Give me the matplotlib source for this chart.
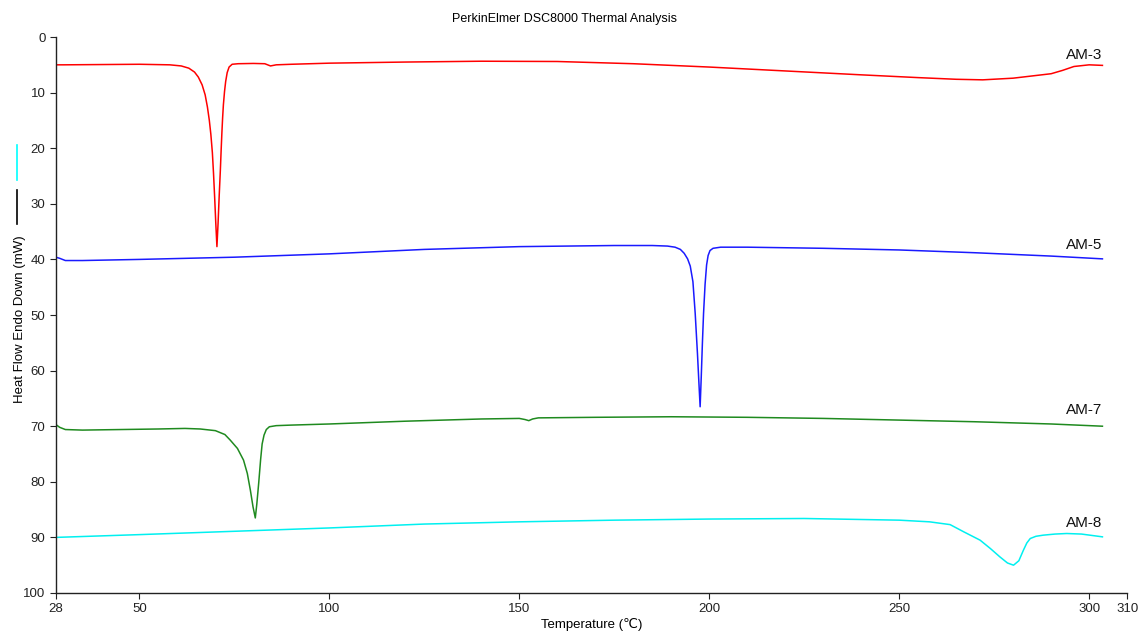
import matplotlib
matplotlib.use('Agg')
import matplotlib.pyplot as plt
from matplotlib.lines import Line2D

plt.rcParams['font.family'] = ['Liberation Sans', 'DejaVu Sans']

# AM-3 (red)
am3_t = [28, 30, 40, 50, 58, 61, 63, 64.5, 65.5, 66.5, 67.3, 67.9, 68.4, 68.8, 69.2, 69.5, 69.8, 70.1, 70.4,
         70.7, 71.0, 71.3, 71.5, 71.7, 71.9, 72.1, 72.4, 72.7, 73.1, 73.6, 74.4, 76, 80, 83, 84.5, 86, 90, 100,
         120, 140, 160, 180, 200, 220, 240, 255, 265, 272, 280, 285, 290, 293, 296, 300, 303.5]
am3_h = [5.0, 5.0, 4.95, 4.9, 5.0, 5.2, 5.6, 6.3, 7.2, 8.6, 10.4, 12.6, 15.0, 17.5, 20.8, 24.5, 28.8, 33.5, 37.7,
         33.5, 28.5, 24.0, 20.5, 17.3, 14.5, 12.2, 9.8, 8.0, 6.4, 5.4, 4.9, 4.8, 4.75, 4.8, 5.2, 5.0, 4.9, 4.7,
         4.5, 4.35, 4.4, 4.8, 5.4, 6.1, 6.8, 7.3, 7.6, 7.7, 7.4, 7.0, 6.6, 6.0, 5.3, 5.0, 5.1]

# AM-5 (blue)
am5_t = [28, 29, 30.5, 35, 50, 75, 100, 125, 150, 175, 185, 189, 191, 192.4, 193.4, 194.3, 195, 195.7, 196.3,
         196.9, 197.3, 197.6, 197.9, 198.2, 198.5, 198.9, 199.3, 199.7, 200.2, 201, 203, 210, 230, 250, 270,
         290, 303.5]
am5_h = [39.6, 39.8, 40.2, 40.2, 40.0, 39.6, 39.0, 38.2, 37.7, 37.5, 37.5, 37.6, 37.8, 38.2, 38.9, 39.9, 41.2,
         44.0, 49.7, 57.0, 62.5, 66.5, 61.0, 55.0, 49.7, 44.5, 41.0, 39.3, 38.4, 38.0, 37.8, 37.8, 38.0, 38.3,
         38.8, 39.4, 39.9]

# AM-7 (green)
am7_t = [28, 29, 30.5, 35, 45, 55, 62, 66, 70, 72.5, 73.9, 75.8, 77.4, 78.4, 79.2, 79.9, 80.5, 80.9, 81.4, 81.9,
         82.3, 82.8, 83.4, 84.2, 86, 90, 100, 120, 140, 150, 151.5, 152.5, 153.5, 155, 170, 190, 210, 230, 250,
         270, 290, 303.5]
am7_h = [69.7, 70.2, 70.6, 70.7, 70.6, 70.5, 70.4, 70.5, 70.8, 71.5, 72.5, 74.0, 76.1, 78.5, 81.5, 84.5, 86.5,
         84.0, 80.2, 76.0, 73.2, 71.6, 70.6, 70.1, 69.9, 69.8, 69.6, 69.1, 68.7, 68.6, 68.8, 69.0, 68.7, 68.5,
         68.4, 68.3, 68.4, 68.6, 68.9, 69.2, 69.6, 70.0]

# AM-8 (cyan)
am8_t = [28, 50, 75, 100, 125, 150, 175, 200, 225, 250, 258, 263.4, 267, 271.3, 274, 276.5, 278.5, 280.1, 281.5,
         282.7, 283.6, 284.5, 286, 287.9, 291, 294.1, 298, 303.5]
am8_h = [90.0, 89.5, 88.9, 88.3, 87.6, 87.2, 86.9, 86.7, 86.6, 86.9, 87.2, 87.7, 89.0, 90.5, 92.0, 93.5, 94.6,
         95.0, 94.2, 92.3, 91.0, 90.2, 89.8, 89.6, 89.4, 89.3, 89.4, 89.9]

names = ['AM-3', 'AM-5', 'AM-7', 'AM-8']
label_pos = [3.2, 37.4, 67.1, 87.4]
colors = ['#ff0000', '#1a1aff', '#1f8a1f', '#00f0f0']

x_ticks = [28, 50, 100, 150, 200, 250, 300, 310]
y_ticks = [0, 10, 20, 30, 40, 50, 60, 70, 80, 90, 100]

fig = plt.figure(figsize=(11.4, 6.33), dpi=100)
ax = fig.add_axes([0.049, 0.0632, 0.9397, 0.8783])

series = [(am3_t, am3_h), (am5_t, am5_h), (am7_t, am7_h), (am8_t, am8_h)]
for (t, h), c in zip(series, colors):
    ax.plot(t, h, color=c, linewidth=1.1)

for name, yp in zip(names, label_pos):
    ax.text(303.5, yp, name, ha='right', va='center', fontsize=11, color='#111111')

ax.set_xlim(28, 310)
ax.set_ylim(100, 0)
ax.set_xticks(x_ticks)
ax.set_yticks(y_ticks)
ax.tick_params(axis='both', direction='out', length=4, width=0.8, labelsize=9.5, colors='#222222')
for s in ['top', 'right']:
    ax.spines[s].set_visible(False)
for s in ['left', 'bottom']:
    ax.spines[s].set_linewidth(1.0)
    ax.spines[s].set_color('#222222')

ax.set_xlabel('Temperature (\u2103)', fontsize=9.5, labelpad=2)
fig.text(0.0175, 0.495, 'Heat Flow Endo Down (mW)', rotation=90, ha='center', va='center', fontsize=9.5)
fig.text(0.495, 0.97, 'PerkinElmer DSC8000 Thermal Analysis', ha='center', va='center', fontsize=9)

# small colour markers beside y label
fig.add_artist(Line2D([0.0145, 0.0145], [1 - 145 / 633, 1 - 180 / 633], color='#00ffff', linewidth=1.2))
fig.add_artist(Line2D([0.0145, 0.0145], [1 - 190 / 633, 1 - 224 / 633], color='black', linewidth=1.2))

fig.savefig('out.png', dpi=100)
